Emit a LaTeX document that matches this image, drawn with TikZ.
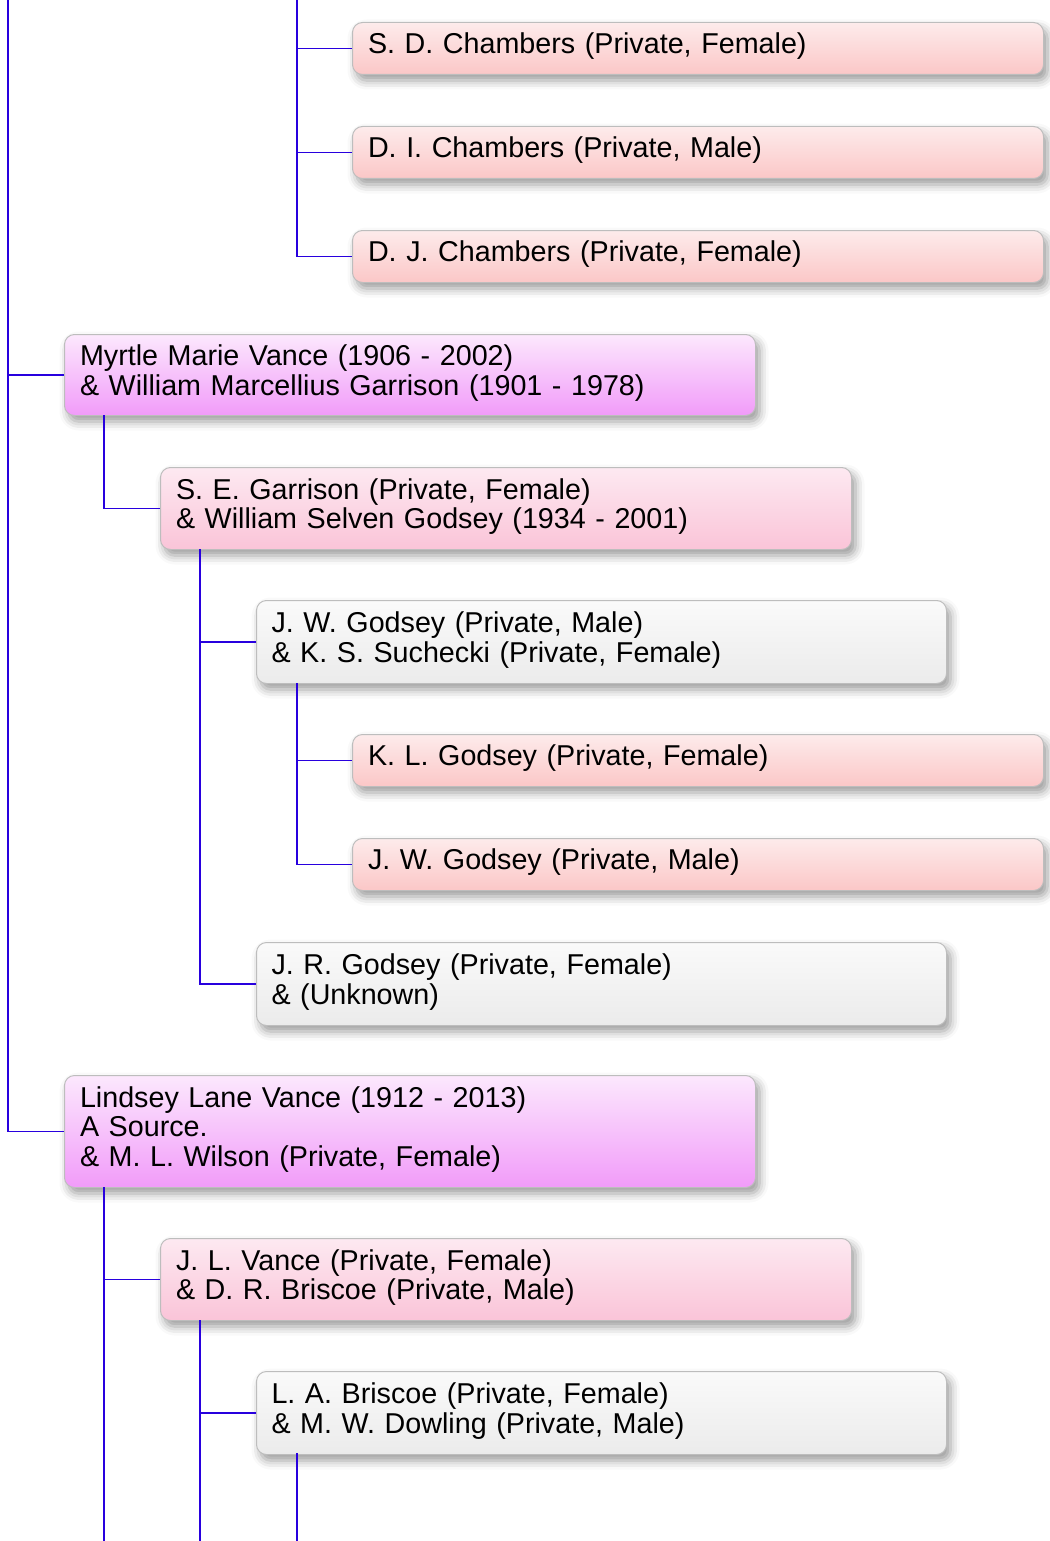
\documentclass[tikz,border=0pt]{standalone}
\usepackage{fontspec}
\setmainfont{Liberation Sans}
\usetikzlibrary{shadows.blur}
\definecolor{linkc}{RGB}{40,0,222}
\definecolor{pinkT}{HTML}{FDEBEB}
\definecolor{pinkB}{HTML}{FBC7C7}
\definecolor{magT}{HTML}{FCE8FD}
\definecolor{magB}{HTML}{F19BF9}
\definecolor{roseT}{HTML}{FDE9F1}
\definecolor{roseB}{HTML}{FAC4D8}
\definecolor{greyT}{HTML}{FAFAFA}
\definecolor{greyB}{HTML}{EBEBEB}
\definecolor{edgec}{HTML}{BDBDBD}
\tikzset{
  famox/.style={rectangle, rounded corners=10pt, draw=edgec, line width=1pt,
    anchor=north west, align=left, inner xsep=14.5pt, inner ysep=0pt,
    text width=#1, font=\fontsize{28.7}{29.7}\selectfont,
    execute at end node={\rule[-10pt]{0pt}{10pt}},
    blur shadow={shadow xshift=4pt, shadow yshift=-6pt, shadow blur radius=9pt, shadow opacity=40}},
  famox/.default=660pt,
  pinkbox/.style={famox, minimum width=691pt, minimum height=52pt, top color=pinkT, bottom color=pinkB},
  magbox/.style={famox, minimum width=691pt, top color=magT, bottom color=magB},
  rosebox/.style={famox, minimum width=691pt, minimum height=82pt, top color=roseT, bottom color=roseB},
  greybox/.style={famox, minimum width=690pt, minimum height=83pt, top color=greyT, bottom color=greyB},
  link/.style={draw=linkc, line width=1.3pt}
}
\begin{document}
\begin{tikzpicture}[x=1pt,y=-1pt]
\useasboundingbox (0,0) rectangle (1049,1541);
% boxes
\node[pinkbox] (sd) at (352,22) {S. D. Chambers (Private, Female)};
\node[pinkbox] (di) at (352,126) {D. I. Chambers (Private, Male)};
\node[pinkbox] (dj) at (352,230) {D. J. Chambers (Private, Female)};
\node[magbox, minimum height=81pt] (myrtle) at (64,334) {Myrtle Marie Vance (1906 - 2002)\\\& William Marcellius Garrison (1901 - 1978)};
\node[rosebox] (se) at (160,467) {S. E. Garrison (Private, Female)\\\& William Selven Godsey (1934 - 2001)};
\node[greybox] (jw) at (256,600) {J. W. Godsey (Private, Male)\\\& K. S. Suchecki (Private, Female)};
\node[pinkbox] (kl) at (352,734) {K. L. Godsey (Private, Female)};
\node[pinkbox] (jwb) at (352,838) {J. W. Godsey (Private, Male)};
\node[greybox] (jr) at (256,942) {J. R. Godsey (Private, Female)\\\& (Unknown)};
\node[magbox, minimum height=112pt] (lindsey) at (64,1075) {Lindsey Lane Vance (1912 - 2013)\\A Source.\\\& M. L. Wilson (Private, Female)};
\node[rosebox] (jl) at (160,1238) {J. L. Vance (Private, Female)\\\& D. R. Briscoe (Private, Male)};
\node[greybox] (la) at (256,1371) {L. A. Briscoe (Private, Female)\\\& M. W. Dowling (Private, Male)};
% free ends
\coordinate (t0) at (8,0);
\coordinate (t1) at (297,0);
\coordinate (b1) at (104,1541);
\coordinate (b2) at (200,1541);
\coordinate (b3) at (297,1541);
\coordinate (mx) at (104,415);
\coordinate (sx) at (200,549);
\coordinate (jx) at (297,683);
\coordinate (lx) at (104,1187);
\coordinate (jlx) at (200,1320);
\coordinate (lax) at (297,1453);
% connectors
\draw[link] (t0) |- (lindsey.west);
\draw[link] (myrtle.west) -- (myrtle.west -| t0);
\draw[link] (t1) |- (dj.west);
\draw[link] (sd.west) -- (sd.west -| t1);
\draw[link] (di.west) -- (di.west -| t1);
\draw[link] (mx) |- (se.west);
\draw[link] (sx) |- (jr.west);
\draw[link] (jw.west) -- (jw.west -| sx);
\draw[link] (jx) |- (jwb.west);
\draw[link] (kl.west) -- (kl.west -| jx);
\draw[link] (lx) -- (b1);
\draw[link] (jl.west) -- (jl.west -| lx);
\draw[link] (jlx) -- (b2);
\draw[link] (la.west) -- (la.west -| jlx);
\draw[link] (lax) -- (b3);
\end{tikzpicture}
\end{document}
